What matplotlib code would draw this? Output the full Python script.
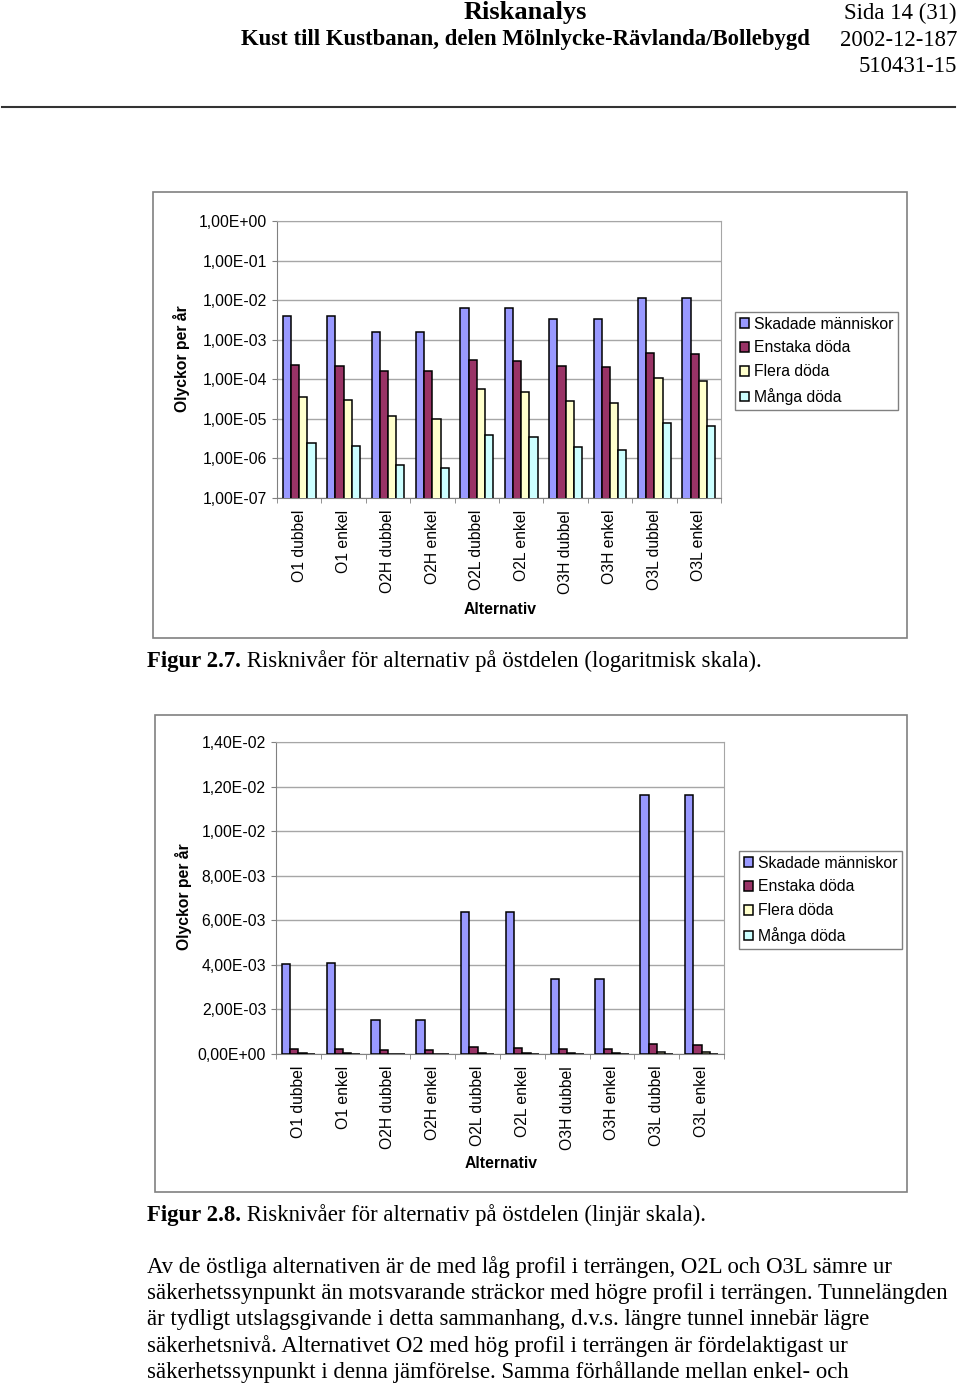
import numpy as np
import matplotlib.pyplot as plt
from matplotlib.patches import Rectangle
from matplotlib.ticker import FuncFormatter, FixedLocator

# Data
alternativ = ["O1 dubbel", "O1 enkel", "O2H dubbel", "O2H enkel", "O2L dubbel",
              "O2L enkel", "O3H dubbel", "O3H enkel", "O3L dubbel", "O3L enkel"]
serier = ["Skadade människor", "Enstaka döda", "Flera döda", "Många döda"]
skadade = [4.05e-3, 4.07e-3, 1.54e-3, 1.54e-3, 6.35e-3, 6.38e-3, 3.35e-3, 3.36e-3, 1.160e-2, 1.163e-2]
enstaka = [2.25e-4, 2.2e-4, 1.62e-4, 1.62e-4, 3.05e-4, 2.88e-4, 2.12e-4, 2.04e-4, 4.5e-4, 4.25e-4]
flera = [3.5e-5, 3.0e-5, 1.16e-5, 1.01e-5, 5.7e-5, 4.9e-5, 2.86e-5, 2.5e-5, 1.06e-4, 9.3e-5]
manga = [2.43e-6, 2.08e-6, 6.7e-7, 5.8e-7, 4.0e-6, 3.5e-6, 2.0e-6, 1.68e-6, 7.7e-6, 6.6e-6]
farger = ["#9999FF", "#993366", "#FFFFCC", "#CCFFFF"]

log_ticks = [1e-7, 1e-6, 1e-5, 1e-4, 1e-3, 1e-2, 1e-1, 1e0]
lin_ticks = [0, 0.002, 0.004, 0.006, 0.008, 0.010, 0.012, 0.014]

W, H = 960, 1385
SANS = "Liberation Sans"
SERIF = "Liberation Serif"
FS = 11.3      # chart text
TS = 16.4      # document text

fig = plt.figure(figsize=(W / 100, H / 100), dpi=100)
doc = fig.add_axes([0, 0, 1, 1], zorder=-1)
doc.set_xlim(0, W)
doc.set_ylim(H, 0)
doc.axis("off")


def rect(x0, y0, x1, y1):
    return [x0 / W, 1 - y1 / H, (x1 - x0) / W, (y1 - y0) / H]


def fmt(v, pos):
    return f"{v:.2E}".replace(".", ",")


def rita(plot, frame, logskala, ticks, leg_xy, ylab_xy, xlab_xy):
    doc.add_patch(Rectangle((frame[0], frame[1]), frame[2] - frame[0], frame[3] - frame[1],
                            facecolor="white", edgecolor="#808080", lw=1.2))
    ax = fig.add_axes(rect(*plot))
    x = np.arange(len(alternativ))
    bredd = 0.185
    if logskala:
        ax.set_yscale("log")
    for i, (vals, namn, farg) in enumerate(zip([skadade, enstaka, flera, manga], serier, farger)):
        ax.bar(x + (i - 1.5) * bredd, vals, bredd, color=farg, edgecolor="black",
               linewidth=1.1, label=namn, zorder=3)
    ax.set_ylim(ticks[0], ticks[-1])
    ax.set_xlim(-0.5, len(alternativ) - 0.5)
    ax.yaxis.set_major_locator(FixedLocator(ticks))
    ax.yaxis.set_minor_locator(FixedLocator([]))
    ax.yaxis.set_major_formatter(FuncFormatter(fmt))
    ax.yaxis.grid(True, color="#a6a6a6", lw=1)
    ax.set_axisbelow(True)
    ax.set_xticks(x)
    ax.set_xticklabels(alternativ, rotation=90, fontsize=FS, family=SANS)
    ax.set_xticks(np.arange(-0.5, len(alternativ)), minor=True)
    ax.tick_params(axis="x", which="major", length=0, pad=8.5)
    ax.tick_params(axis="x", which="minor", length=3.6, color="#808080")
    ax.tick_params(axis="y", length=3.6, color="#808080", pad=3.5)
    for lab in ax.get_yticklabels():
        lab.set_family(SANS)
        lab.set_fontsize(FS)
    for s in ["top", "right"]:
        ax.spines[s].set_color("#a6a6a6")
    for s in ["left", "bottom"]:
        ax.spines[s].set_color("#808080")
    ax.legend(loc="upper left", bbox_to_anchor=(leg_xy[0] / W, 1 - leg_xy[1] / H),
              bbox_transform=fig.transFigure, fancybox=False, edgecolor="#808080",
              framealpha=1, handlelength=0.6, handleheight=0.6, handletextpad=0.3,
              borderpad=0.3, labelspacing=0.56, borderaxespad=0,
              prop={"family": SANS, "size": FS})
    doc.text(ylab_xy[0], ylab_xy[1], "Olyckor per år", rotation=90, ha="center", va="center",
             fontsize=FS, fontweight="bold", family=SANS)
    doc.text(xlab_xy[0], xlab_xy[1], "Alternativ", ha="center", va="center",
             fontsize=FS, fontweight="bold", family=SANS)
    return ax


rita((277, 221, 721, 498), (153, 192, 907, 638), True, log_ticks,
     (735, 312), (182, 359), (500, 609))
rita((276, 742, 724, 1054), (155, 715, 907, 1192), False, lin_ticks,
     (739, 851), (183, 897), (501, 1163))

# Header
doc.text(525, 13, "Riskanalys", ha="center", va="center", fontsize=19,
         fontweight="bold", family=SERIF)
doc.text(525, 40, "Kust till Kustbanan, delen Mölnlycke-Rävlanda/Bollebygd", ha="center",
         va="center", fontsize=TS, fontweight="bold", family=SERIF)
doc.text(957, 13, "Sida 14 (31)", ha="right", va="center", fontsize=TS, family=SERIF)
doc.text(957, 40, "2002-12-187", ha="right", va="center", fontsize=TS, family=SERIF)
doc.text(957, 66, "510431-15", ha="right", va="center", fontsize=TS, family=SERIF)
doc.plot([2, 955], [107, 107], color="#333333", lw=1.5)


def caption(y, nr, text):
    t = doc.text(147, y, nr, ha="left", va="center", fontsize=TS, fontweight="bold", family=SERIF)
    doc.annotate(" " + text, xy=(1, 0), xycoords=t, ha="left", va="bottom",
                 fontsize=TS, family=SERIF)


caption(661, "Figur 2.7.", "Risknivåer för alternativ på östdelen (logaritmisk skala).")
caption(1215, "Figur 2.8.", "Risknivåer för alternativ på östdelen (linjär skala).")

brodtext = [
    "Av de östliga alternativen är de med låg profil i terrängen, O2L och O3L sämre ur",
    "säkerhetssynpunkt än motsvarande sträckor med högre profil i terrängen. Tunnelängden",
    "är tydligt utslagsgivande i detta sammanhang, d.v.s. längre tunnel innebär lägre",
    "säkerhetsnivå. Alternativet O2 med hög profil i terrängen är fördelaktigast ur",
    "säkerhetssynpunkt i denna jämförelse. Samma förhållande mellan enkel- och",
]
for i, rad in enumerate(brodtext):
    doc.text(147, 1267 + i * 26.3, rad, ha="left", va="center", fontsize=TS, family=SERIF)

fig.savefig("out.png", dpi=100)
